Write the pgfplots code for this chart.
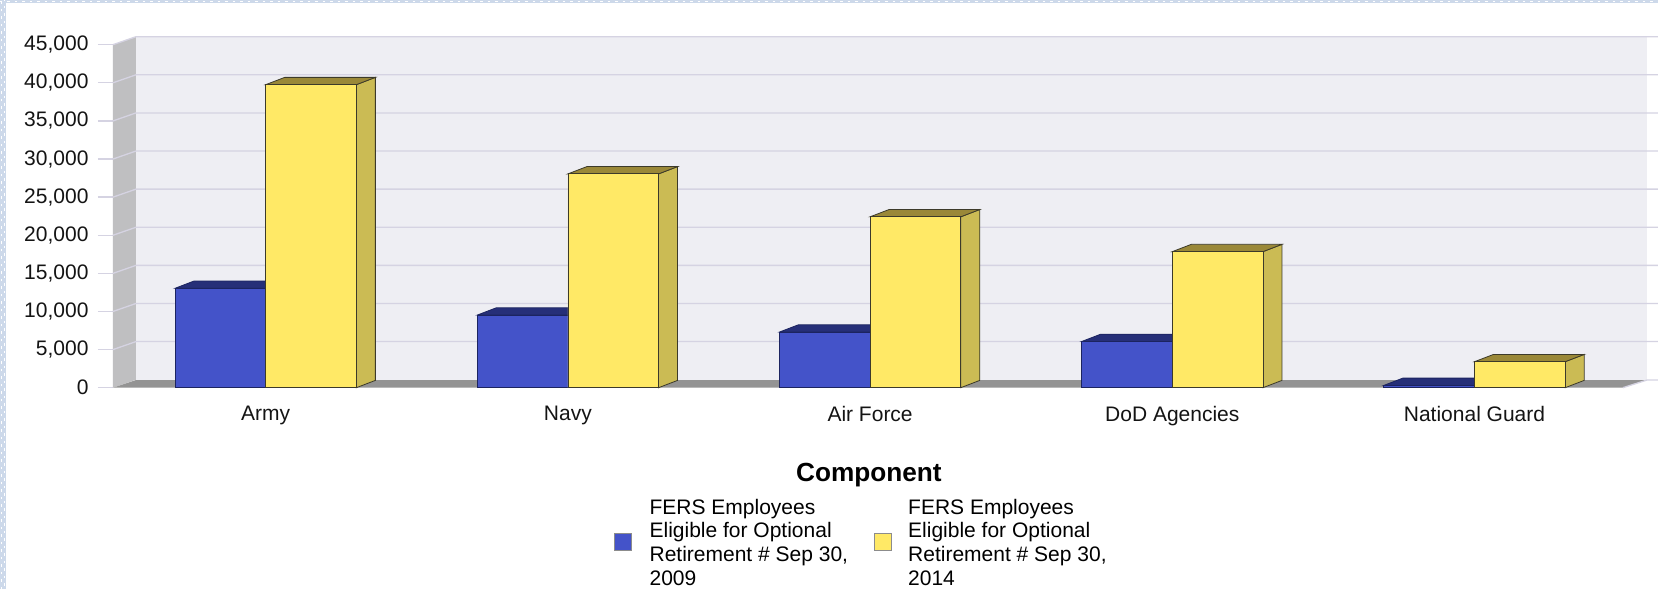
\documentclass[border=0pt]{standalone}
\usepackage{pgfplots}
\pgfplotsset{compat=1.18}
\usepackage{fontspec}
\setmainfont{Liberation Sans}
\definecolor{wallc}{HTML}{EEEEF3}
\definecolor{sidewall}{HTML}{BFBFC1}
\definecolor{floorc}{HTML}{939393}
\definecolor{gridc}{HTML}{D5D3E2}
\definecolor{blueF}{HTML}{4453C9}
\definecolor{blueT}{HTML}{262F78}
\definecolor{blueL}{HTML}{1C2460}
\definecolor{yelF}{HTML}{FFE966}
\definecolor{yelT}{HTML}{9A8838}
\definecolor{yelS}{HTML}{CBBB54}
\definecolor{yelL}{HTML}{3C3A2A}
\definecolor{borderc}{HTML}{CDD9EA}
\pgfplotstableread{
c v
0 13040
1 9525
2 7300
3 6060
4 300
}\bluetab
\pgfplotstableread{
c v
0 39755
1 28050
2 22420
3 17850
4 3410
}\yellowtab
\begin{document}
\begin{tikzpicture}[x=1pt,y=1pt]
% page background: axis box lower-left is at px (113,387.7)
\fill[white] (-113,-201.3) rectangle (1545,387.7);
\fill[borderc] (-113,-201.3) rectangle (-107,387.7);
\fill[borderc] (-113,384.7) rectangle (1545,387.7);
\draw[white,line width=0.8pt,dash pattern=on 2.5pt off 5pt] (-111.5,-201.3) -- (-111.5,387.7);
\draw[white,line width=0.8pt,dash pattern=on 2.5pt off 5pt] (-108.5,-198) -- (-108.5,387.7);
\draw[white,line width=0.8pt,dash pattern=on 2.5pt off 5pt] (-113,386.2) -- (1545,386.2);
\begin{axis}[
  at={(0,0)},anchor=south west,
  scale only axis,width=1534pt,height=343pt,
  xmin=-0.5053,xmax=4.571,ymin=0,ymax=45000,
  clip=false,
  axis line style={draw=none},
  ytick pos=left,
  xtick pos=bottom,
  ytick={0,5000,...,45000},
  xtick={0,1,2,3,4},
  xticklabels={Army,Navy,Air Force,DoD Agencies,National Guard},
  tick align=outside,
  major tick length=15pt,
  y tick style={draw=gridc,line width=1.3pt},
  x tick style={draw=none},
  ticklabel style={font=\fontsize{21}{24}\selectfont,text=black!92},
  ymajorgrids=false,
  scaled y ticks=false,
  yticklabel style={/pgf/number format/.cd,1000 sep={,},assume math mode=true},
  yticklabel shift=6pt,
  xticklabel shift=0pt,
  xlabel={Component},
  xlabel style={at={(axis cs:1.996,-11500)},anchor=center,font=\fontsize{26.2}{30}\selectfont\bfseries,text=black},
  legend columns=2,
  legend style={at={(axis cs:1.1526,-18013)},anchor=west,draw=none,fill=none,
    inner sep=0pt,outer sep=0pt,
    font=\fontsize{21}{23.6}\selectfont,
    nodes={inner sep=0pt,anchor=west},
    /tikz/every even column/.append style={column sep=0pt}},
  legend cell align=left,
]
\addlegendimage{legend image code/.code={\draw[fill=blueF,draw=black!45,line width=0.8pt] (0pt,-26.5pt) rectangle (17pt,-9.5pt);\path (35pt,0);}}
\addlegendentry{\parbox[c]{224pt}{\raggedright\hspace{0pt}FERS Employees\\Eligible for Optional\\Retirement \# Sep 30,\\2009}}
\addlegendimage{legend image code/.code={\draw[fill=yelF,draw=black!45,line width=0.8pt] (0pt,-26.5pt) rectangle (17pt,-9.5pt);\path (34pt,0);}}
\addlegendentry{\parbox[c]{210pt}{\raggedright\hspace{0pt}FERS Employees\\Eligible for Optional\\Retirement \# Sep 30,\\2014}}
% walls and floor
\addplot[forget plot,fill=sidewall,draw=none] coordinates {(-0.5053,0)(-0.4292,1050)(-0.4292,46050)(-0.5053,45000)} -- cycle;
\addplot[forget plot,fill=wallc,draw=none] coordinates {(-0.4292,1050)(4.571,1050)(4.571,46050)(-0.4292,46050)} -- cycle;
\addplot[forget plot,fill=floorc,draw=none] coordinates {(-0.5053,0)(-0.4292,1010)(4.571,1010)(4.491,0)} -- cycle;
% grid
\addplot[forget plot,gridc,line width=1.3pt] coordinates {(4.491,0)(4.571,1010)(4.607,1010)};
\addplot[forget plot,gridc,line width=1.3pt] coordinates {(-0.5053,5000)(-0.4292,6050)(4.607,6050)};
\addplot[forget plot,gridc,line width=1.3pt] coordinates {(-0.5053,10000)(-0.4292,11050)(4.607,11050)};
\addplot[forget plot,gridc,line width=1.3pt] coordinates {(-0.5053,15000)(-0.4292,16050)(4.607,16050)};
\addplot[forget plot,gridc,line width=1.3pt] coordinates {(-0.5053,20000)(-0.4292,21050)(4.607,21050)};
\addplot[forget plot,gridc,line width=1.3pt] coordinates {(-0.5053,25000)(-0.4292,26050)(4.607,26050)};
\addplot[forget plot,gridc,line width=1.3pt] coordinates {(-0.5053,30000)(-0.4292,31050)(4.607,31050)};
\addplot[forget plot,gridc,line width=1.3pt] coordinates {(-0.5053,35000)(-0.4292,36050)(4.607,36050)};
\addplot[forget plot,gridc,line width=1.3pt] coordinates {(-0.5053,40000)(-0.4292,41050)(4.607,41050)};
\addplot[forget plot,gridc,line width=1.3pt] coordinates {(-0.5053,45000)(-0.4292,46050)(4.607,46050)};
% blue tops
\addplot[forget plot,fill=blueT,draw=blueL,line width=0.8pt] coordinates {(-0.3,13040)(-0.2371,13998)(0.0629,13998)(0,13040)} -- cycle;
\addplot[forget plot,fill=blueT,draw=blueL,line width=0.8pt] coordinates {(0.7,9525)(0.7629,10483)(1.0629,10483)(1,9525)} -- cycle;
\addplot[forget plot,fill=blueT,draw=blueL,line width=0.8pt] coordinates {(1.7,7300)(1.7629,8258)(2.0629,8258)(2,7300)} -- cycle;
\addplot[forget plot,fill=blueT,draw=blueL,line width=0.8pt] coordinates {(2.7,6060)(2.7629,7018)(3.0629,7018)(3,6060)} -- cycle;
\addplot[forget plot,fill=blueT,draw=blueL,line width=0.8pt] coordinates {(3.7,300)(3.7629,1258)(4.0629,1258)(4,300)} -- cycle;
% blue fronts
\addplot[forget plot,ybar,bar width=90.7pt,bar shift=-45.35pt,fill=blueF,draw=blueL,line width=0.8pt] table[x=c,y=v] {\bluetab};
% yellow sides
\addplot[forget plot,fill=yelS,draw=yelL,line width=0.8pt] coordinates {(0.3,0)(0.3629,958)(0.3629,40713)(0.3,39755)} -- cycle;
\addplot[forget plot,fill=yelS,draw=yelL,line width=0.8pt] coordinates {(1.3,0)(1.3629,958)(1.3629,29008)(1.3,28050)} -- cycle;
\addplot[forget plot,fill=yelS,draw=yelL,line width=0.8pt] coordinates {(2.3,0)(2.3629,958)(2.3629,23378)(2.3,22420)} -- cycle;
\addplot[forget plot,fill=yelS,draw=yelL,line width=0.8pt] coordinates {(3.3,0)(3.3629,958)(3.3629,18808)(3.3,17850)} -- cycle;
\addplot[forget plot,fill=yelS,draw=yelL,line width=0.8pt] coordinates {(4.3,0)(4.3629,958)(4.3629,4368)(4.3,3410)} -- cycle;
% yellow tops
\addplot[forget plot,fill=yelT,draw=yelL,line width=0.8pt] coordinates {(0,39755)(0.0629,40713)(0.3629,40713)(0.3,39755)} -- cycle;
\addplot[forget plot,fill=yelT,draw=yelL,line width=0.8pt] coordinates {(1,28050)(1.0629,29008)(1.3629,29008)(1.3,28050)} -- cycle;
\addplot[forget plot,fill=yelT,draw=yelL,line width=0.8pt] coordinates {(2,22420)(2.0629,23378)(2.3629,23378)(2.3,22420)} -- cycle;
\addplot[forget plot,fill=yelT,draw=yelL,line width=0.8pt] coordinates {(3,17850)(3.0629,18808)(3.3629,18808)(3.3,17850)} -- cycle;
\addplot[forget plot,fill=yelT,draw=yelL,line width=0.8pt] coordinates {(4,3410)(4.0629,4368)(4.3629,4368)(4.3,3410)} -- cycle;
% yellow fronts
\addplot[forget plot,ybar,bar width=90.7pt,bar shift=45.35pt,fill=yelF,draw=yelL,line width=0.8pt] table[x=c,y=v] {\yellowtab};
\end{axis}
\pgfresetboundingbox
\path[use as bounding box] (-113,-201.3) rectangle (1545,387.7);
\end{tikzpicture}
\end{document}
